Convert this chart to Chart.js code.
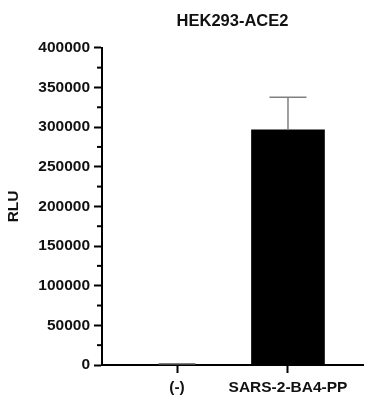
<!DOCTYPE html>
<html>
<head>
<meta charset="utf-8">
<script src="https://cdn.jsdelivr.net/npm/chart.js@4/dist/chart.umd.min.js"></script>
<style>
  html, body { margin: 0; padding: 0; background: #fff; }
  #wrap { width: 387px; height: 400px; }
</style>
</head>
<body>
<div id="wrap"><canvas id="c"></canvas></div>
<script>
// data
const categories = ['(-)', 'SARS-2-BA4-PP'];
const rluMeans = [900, 296500];
const rluErrors = [600, 41000];
const yTickStep = 50000;
const yMax = 400000;

// error bars + minor ticks, drawn through the chart's scales
const extras = {
  id: 'extras',
  afterDatasetsDraw(chart) {
    const { ctx, scales: { x, y } } = chart;
    ctx.save();
    ctx.strokeStyle = '#808080';
    ctx.lineWidth = 1.5;
    rluMeans.forEach((m, i) => {
      const px = x.getPixelForValue(i);
      const top = y.getPixelForValue(m + rluErrors[i]);
      const base = y.getPixelForValue(m);
      ctx.beginPath();
      ctx.moveTo(px, base);
      ctx.lineTo(px, top);
      ctx.moveTo(px - 18.5, top);
      ctx.lineTo(px + 18.5, top);
      ctx.stroke();
    });
    ctx.restore();
  },
  afterDraw(chart) {
    const { ctx, chartArea, scales: { y } } = chart;
    ctx.save();
    ctx.strokeStyle = '#000';
    ctx.lineWidth = 2;
    for (let v = yTickStep / 2; v < yMax; v += yTickStep) {
      const py = y.getPixelForValue(v);
      ctx.beginPath();
      ctx.moveTo(chartArea.left - 5, py);
      ctx.lineTo(chartArea.left, py);
      ctx.stroke();
    }
    ctx.restore();
  }
};

const fam = 'Arial, "Liberation Sans", sans-serif';
const tickFont = { family: fam, size: 15.5, weight: 'bold' };

new Chart(document.getElementById('c'), {
  type: 'bar',
  data: {
    datasets: [{
      data: rluMeans.map((v, i) => ({ x: i, y: v })),
      backgroundColor: '#000',
      borderWidth: 0,
      barThickness: 73
    }]
  },
  options: {
    responsive: true,
    maintainAspectRatio: false,
    animation: false,
    layout: { padding: { left: 0, right: 24, top: 0, bottom: 0 } },
    plugins: {
      legend: { display: false },
      tooltip: { enabled: false },
      title: {
        display: true,
        text: 'HEK293-ACE2',
        color: '#111',
        font: { family: fam, size: 16.5, weight: 'bold' },
        fullSize: false,
        padding: { top: 12, bottom: 16 }
      }
    },
    scales: {
      x: {
        type: 'linear',
        offset: false,
        min: -0.676,
        max: 1.676,
        afterBuildTicks: s => { s.ticks = categories.map((c, i) => ({ value: i })); },
        afterFit: s => { s.height = 35; },
        ticks: {
          callback: v => categories[v],
          color: '#111',
          font: tickFont,
          padding: 5,
          maxRotation: 0,
          autoSkip: false
        },
        grid: { offset: false, drawOnChartArea: false, drawTicks: true, tickLength: 8, tickWidth: 2, tickColor: '#000' },
        border: { display: true, color: '#000', width: 2 }
      },
      y: {
        min: 0,
        max: yMax,
        afterFit: s => { s.width = 102; },
        ticks: {
          stepSize: yTickStep,
          callback: v => String(v),
          color: '#111',
          font: tickFont,
          padding: 4
        },
        grid: { drawOnChartArea: false, drawTicks: true, tickLength: 8, tickWidth: 2, tickColor: '#000' },
        border: { display: true, color: '#000', width: 2 },
        title: {
          display: true,
          text: 'RLU',
          color: '#111',
          font: tickFont,
          padding: { top: 4, bottom: 0 }
        }
      }
    }
  },
  plugins: [extras]
});
</script>
</body>
</html>
